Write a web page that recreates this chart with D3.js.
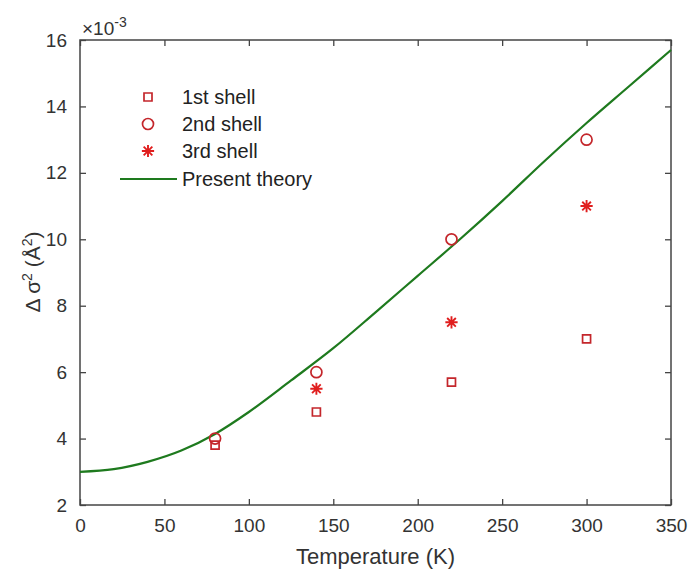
<!DOCTYPE html>
<html>
<head>
<meta charset="utf-8">
<script src="https://d3js.org/d3.v7.min.js"></script>
<style>
  body { margin: 0; background: #fff; }
  text { font-family: "Liberation Sans", Arial, sans-serif; }
</style>
</head>
<body>
<svg width="691" height="572"></svg>
<script>
// values in units of 1e-3 A^2
const temps = [80, 140, 220, 300];
const shell1 = [3.8, 4.8, 5.7, 7.0];
const shell2 = [4.0, 6.0, 10.0, 13.0];
const shell3T = [140, 220, 300];
const shell3 = [5.5, 7.5, 11.0];

const theoryT = [0, 20, 40, 60, 80, 100, 125, 150, 175, 200, 225, 250, 275, 300, 325, 350];
const theory = [3.0, 3.08, 3.3, 3.64, 4.14, 4.8, 5.75, 6.72, 7.8, 8.9, 10.0, 11.15, 12.35, 13.5, 14.6, 15.7];

const xTicks = [0, 50, 100, 150, 200, 250, 300, 350];
const yTicks = [2, 4, 6, 8, 10, 12, 14, 16];

const mLeft = 80, mRight = 671, mTop = 40, mBottom = 505;
const svg = d3.select("svg");

const x = d3.scaleLinear().domain([0, 350]).range([mLeft, mRight]);
const y = d3.scaleLinear().domain([2, 16]).range([mBottom, mTop]);

const axisColor = "#444";
const red = "#c4262b";

function styleAxis(g) {
  g.select(".domain").remove();
  g.selectAll(".tick line").attr("stroke", axisColor).attr("stroke-width", 1.3);
  g.selectAll(".tick text").attr("fill", "#333").style("font-size", "19px");
}

svg.append("g").attr("transform", `translate(0,${mBottom})`)
  .call(d3.axisBottom(x).tickValues(xTicks).tickSizeInner(-6).tickSizeOuter(0).tickPadding(14))
  .call(styleAxis);
svg.append("g").attr("transform", `translate(0,${mTop})`)
  .call(d3.axisTop(x).tickValues(xTicks).tickSizeInner(-6).tickSizeOuter(0).tickFormat(""))
  .call(styleAxis);
svg.append("g").attr("transform", `translate(${mLeft},0)`)
  .call(d3.axisLeft(y).tickValues(yTicks).tickSizeInner(-6).tickSizeOuter(0).tickPadding(13))
  .call(styleAxis);
svg.append("g").attr("transform", `translate(${mRight},0)`)
  .call(d3.axisRight(y).tickValues(yTicks).tickSizeInner(-6).tickSizeOuter(0).tickFormat(""))
  .call(styleAxis);

svg.append("rect")
  .attr("x", mLeft).attr("y", mTop)
  .attr("width", mRight - mLeft).attr("height", mBottom - mTop)
  .attr("fill", "none").attr("stroke", axisColor).attr("stroke-width", 1.5);

// theory curve
const line = d3.line().x((d, i) => x(theoryT[i])).y(d => y(d)).curve(d3.curveMonotoneX);
svg.append("path").datum(theory)
  .attr("d", line).attr("fill", "none")
  .attr("stroke", "#1e7a1e").attr("stroke-width", 2.2);

// 8-arm asterisk like the plotting tool's '*'
const star = {
  draw(ctx, size) {
    const r = Math.sqrt(size) / 2;
    const d = r * Math.SQRT1_2;
    ctx.moveTo(-r, 0); ctx.lineTo(r, 0);
    ctx.moveTo(0, -r); ctx.lineTo(0, r);
    ctx.moveTo(-d, -d); ctx.lineTo(d, d);
    ctx.moveTo(-d, d); ctx.lineTo(d, -d);
  }
};

const sq = d3.symbol().type(d3.symbolSquare).size(64);
const circ = d3.symbol().type(d3.symbolCircle).size(95);
const ast = d3.symbol().type(star).size(150);

svg.append("g").selectAll("path").data(shell1).join("path")
  .attr("d", sq).attr("transform", (d, i) => `translate(${x(temps[i])},${y(d)})`)
  .attr("fill", "none").attr("stroke", red).attr("stroke-width", 1.7);
svg.append("g").selectAll("path").data(shell2).join("path")
  .attr("d", circ).attr("transform", (d, i) => `translate(${x(temps[i])},${y(d)})`)
  .attr("fill", "none").attr("stroke", red).attr("stroke-width", 1.7);
svg.append("g").selectAll("path").data(shell3).join("path")
  .attr("d", ast).attr("transform", (d, i) => `translate(${x(shell3T[i])},${y(d)})`)
  .attr("fill", "none").attr("stroke", "#e01e1e").attr("stroke-width", 1.9);

// legend
const leg = svg.append("g");
const legItems = ["1st shell", "2nd shell", "3rd shell", "Present theory"];
const legY = [97, 124, 151, 179];
leg.append("path").attr("d", sq).attr("transform", `translate(148,${legY[0]})`)
  .attr("fill", "none").attr("stroke", red).attr("stroke-width", 1.7);
leg.append("path").attr("d", circ).attr("transform", `translate(148,${legY[1]})`)
  .attr("fill", "none").attr("stroke", red).attr("stroke-width", 1.7);
leg.append("path").attr("d", ast).attr("transform", `translate(148,${legY[2]})`)
  .attr("fill", "none").attr("stroke", "#e01e1e").attr("stroke-width", 1.9);
leg.append("line").attr("x1", 120).attr("x2", 177).attr("y1", legY[3]).attr("y2", legY[3])
  .attr("stroke", "#1e7a1e").attr("stroke-width", 2);
leg.selectAll("text").data(legItems).join("text")
  .attr("x", 182).attr("y", (d, i) => legY[i]).attr("dy", "0.35em")
  .attr("fill", "#222").style("font-size", "20px").text(d => d);

// exponent label
const ex = svg.append("text").attr("x", 82).attr("y", 35).attr("fill", "#333").style("font-size", "19px");
ex.append("tspan").text("\u00d710");
ex.append("tspan").attr("dy", -8).style("font-size", "14px").text("-3");

// axis titles
svg.append("text").attr("x", (mLeft + mRight) / 2).attr("y", 564).attr("text-anchor", "middle")
  .attr("fill", "#333").style("font-size", "22px").text("Temperature (K)");

const yl = svg.append("text").attr("transform", "translate(40,272) rotate(-90)")
  .attr("text-anchor", "middle").attr("fill", "#333").style("font-size", "21px");
yl.append("tspan").text("\u0394 \u03c3");
yl.append("tspan").attr("dy", -8).style("font-size", "14px").text("2");
yl.append("tspan").attr("dy", 8).text(" (\u00c5");
yl.append("tspan").attr("dy", -8).style("font-size", "14px").text("2");
yl.append("tspan").attr("dy", 8).text(")");
</script>
</body>
</html>
